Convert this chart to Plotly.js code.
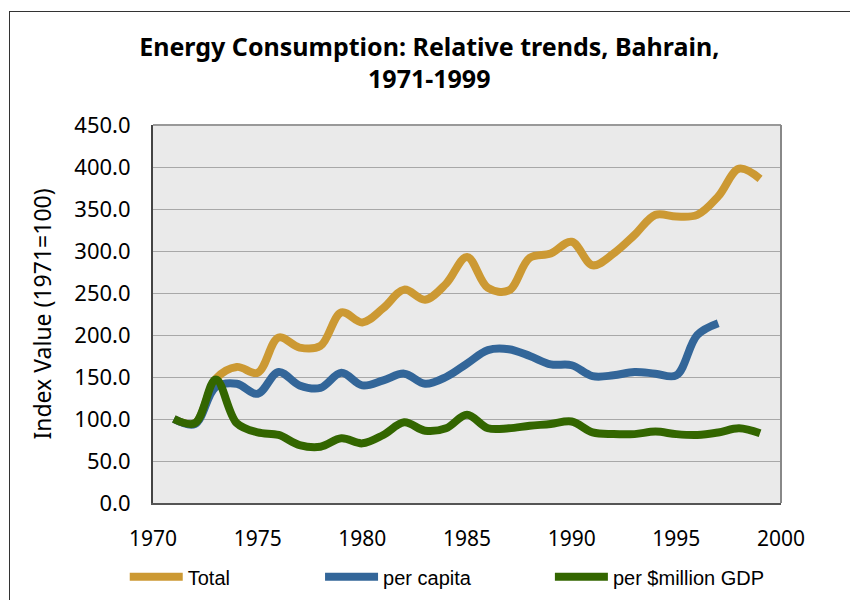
<!DOCTYPE html>
<html>
<head>
<meta charset="utf-8">
<script src="https://cdn.plot.ly/plotly-3.0.1.min.js"></script>
<style>
  html, body { margin: 0; padding: 0; background: #fff; }
  #wrap { position: relative; width: 850px; height: 600px; overflow: hidden; }
  #chart { position: absolute; left: 0; top: 0; width: 850px; height: 600px; }
  #frame { position: absolute; left: 9px; top: 11px; width: 900px; height: 700px;
           border-left: 1.5px solid #333; border-top: 1.5px solid #333; pointer-events: none; }
</style>
</head>
<body>
<div id="wrap"><div id="chart"></div><div id="frame"></div></div>
<script>
const years = [1971,1972,1973,1974,1975,1976,1977,1978,1979,1980,1981,1982,1983,1984,1985,
               1986,1987,1988,1989,1990,1991,1992,1993,1994,1995,1996,1997,1998,1999];
const total = [100,95,148,162,155,197,185,187,227,215,232,254,242,261,293,
               256,253,292,297,311,283,297,319,343,341,343,365,398,386];
const perCapitaYears = [1971,1972,1973,1974,1975,1976,1977,1978,1979,1980,1981,1982,1983,1984,1985,
               1986,1987,1988,1989,1990,1991,1992,1993,1994,1995,1996,1997];
const perCapita = [100,94,138,142,130,156,140,137,155,140,146,154,142,150,166,
               182,183,175,165,164,151,152,156,154,152,200,214];
const perGDP = [100,95,147,95,84,81,69,67,77,71,81,96,86,89,105,
               89,89,92,94,97,84,82,82,85,82,81,84,89,83];
const seriesNames = ["Total", "per capita", "per $million GDP"];
const xTicks = [1970,1975,1980,1985,1990,1995,2000];

const colors = ["#CC9933", "#336699", "#336600"];

function mk(x, y, i, leg) {
  return { x: x, y: y, name: seriesNames[i], type: "scatter", mode: "lines",
    line: { color: colors[i], width: 8, shape: "spline", smoothing: 1 },
    legend: leg, hoverinfo: "skip" };
}
const data = [
  mk(years, total, 0, "legend"),
  mk(perCapitaYears, perCapita, 1, "legend2"),
  mk(years, perGDP, 2, "legend3")
];

const legBase = { orientation: "h", yanchor: "middle", y: -0.1953, xanchor: "left",
  font: { family: "Liberation Sans, Arial, sans-serif", size: 20, color: "#000" },
  bgcolor: "rgba(0,0,0,0)", itemwidth: 53, borderwidth: 0 };

const layout = {
  width: 850, height: 600,
  margin: { l: 153, r: 69, t: 125, b: 97, autoexpand: false },
  paper_bgcolor: "#ffffff",
  plot_bgcolor: "#EAEAEA",
  title: { text: "<b>Energy Consumption: Relative trends, Bahrain,<br>1971-1999</b>",
    font: { family: "Noto Sans, Open Sans, sans-serif", size: 25, color: "#000" },
    x: 0.505, xanchor: "center", y: 0.907, yanchor: "middle" },
  xaxis: { range: [1970, 2000], tickvals: xTicks, showgrid: false, zeroline: false,
    automargin: false,
    showline: true, linecolor: "#555", linewidth: 2, ticks: "", ticklabelstandoff: 16,
    tickfont: { family: "Noto Sans, Open Sans, sans-serif", size: 21, color: "#000" },
    fixedrange: true },
  yaxis: { range: [0, 450], dtick: 50, tick0: 0, tickformat: ".1f", showgrid: true,
    automargin: false,
    gridcolor: "#A8A8A8", gridwidth: 1, zeroline: false,
    showline: true, linecolor: "#444", linewidth: 2, ticks: "", ticklabelstandoff: 16,
    tickfont: { family: "Noto Sans, Open Sans, sans-serif", size: 22, color: "#000" },
    title: { text: "Index Value (1971=100)\u00a0\u00a0\u00a0\u00a0", standoff: 16,
      font: { family: "Noto Sans, Open Sans, sans-serif", size: 23, color: "#000" } },
    fixedrange: true },
  shapes: [
    { type: "line", xref: "paper", yref: "paper", x0: 0, x1: 1, y0: 1, y1: 1,
      line: { color: "#999", width: 2 } },
    { type: "line", xref: "paper", yref: "paper", x0: 1, x1: 1, y0: 0, y1: 1,
      line: { color: "#888", width: 2 } }
  ],
  legend: Object.assign({}, legBase, { x: -0.045 }),
  legend2: Object.assign({}, legBase, { x: 0.266 }),
  legend3: Object.assign({}, legBase, { x: 0.632 }),
  showlegend: true
};

Plotly.newPlot("chart", data, layout, { displayModeBar: false, staticPlot: true });
</script>
</body>
</html>
